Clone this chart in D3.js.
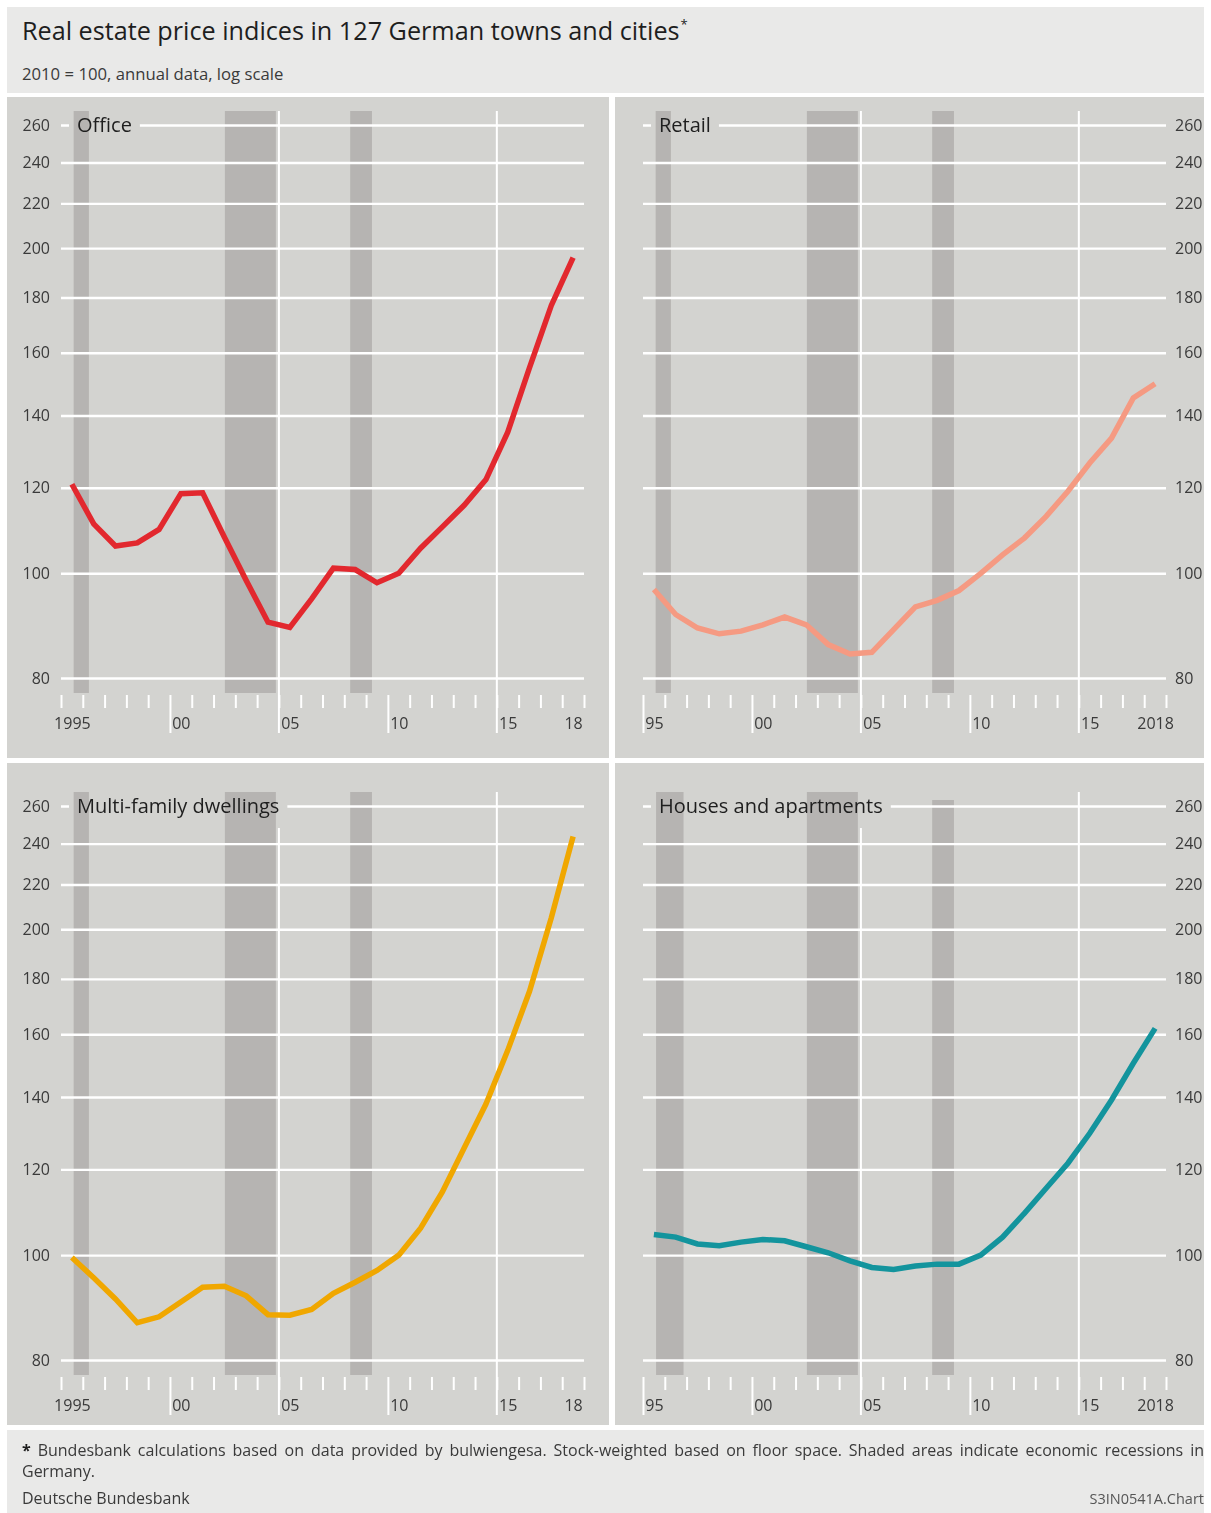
<!DOCTYPE html>
<html>
<head>
<meta charset="utf-8">
<script src="https://cdn.jsdelivr.net/npm/d3@7"></script>
<style>
  html, body { margin: 0; padding: 0; background: #ffffff; }
  svg { display: block; font-family: "Open Sans", "Noto Sans", sans-serif; }
</style>
</head>
<body>
<svg id="chart" width="1211" height="1513"></svg>
<script>
// ---- data -------------------------------------------------------------
const years = d3.range(1995, 2019); // annual observations 1995 ... 2018

const office      = [120.9, 111.1, 106.0, 106.7, 109.8, 118.5, 118.7, 108.0, 98.5, 90.1, 89.1, 94.7,
                     101.1, 100.8, 98.0, 100.0, 105.5, 110.4, 115.6, 122.1, 135.1, 155.0, 177.0, 196.0];
const retail      = [96.6, 91.6, 89.0, 87.9, 88.4, 89.6, 91.1, 89.6, 85.9, 84.2, 84.5, 88.7,
                     93.1, 94.4, 96.4, 100.0, 104.0, 107.8, 112.9, 119.1, 126.5, 133.4, 145.3, 149.8];
const multiFamily = [99.5, 95.3, 91.1, 86.6, 87.7, 90.5, 93.4, 93.6, 91.7, 88.1, 88.0, 89.1,
                     92.2, 94.4, 96.8, 100.0, 105.9, 114.4, 125.6, 137.9, 154.6, 175.3, 205.0, 243.7];
const houses      = [104.5, 103.9, 102.4, 102.0, 102.8, 103.4, 103.1, 101.8, 100.5, 98.8, 97.4, 97.0,
                     97.7, 98.1, 98.1, 100.0, 103.9, 109.3, 115.3, 121.6, 129.6, 139.1, 150.4, 162.0];

// recession periods (fractional years)
const recessions       = [[1995.58, 1996.28], [2002.52, 2004.86], [2008.27, 2009.27]];
const recessionsHouses = [[1995.60, 1996.86], [2002.52, 2004.86], [2008.27, 2009.27]];

const yTickValues   = [80, 100, 120, 140, 160, 180, 200, 220, 240, 260];
const yearTicks     = d3.range(1995, 2020);
const labelYears    = [1995, 2000, 2005, 2010, 2015, 2018];
const gridYears     = [2005, 2015];
const panelTitles   = ["Office", "Retail", "Multi-family dwellings", "Houses and apartments"];

const titleText    = "Real estate price indices in 127 German towns and cities";
const subtitleText = "2010 = 100, annual data, log scale";
const noteText     = "Bundesbank calculations based on data provided by bulwiengesa. Stock-weighted based on floor space. Shaded areas indicate economic recessions in";
const noteText2    = "Germany.";
const sourceText   = "Deutsche Bundesbank";
const chartId      = "S3IN0541A.Chart";

// ---- styling ----------------------------------------------------------
const C = {
  frame: "#e9e9e8",
  panel: "#d3d3d0",
  band: "#b6b4b2",
  grid: "#ffffff",
  text: "#1e1e1e",
  axisText: "#3a3a3a"
};

const panels = [
  { title: panelTitles[0], values: office,      color: "#e2282e", bands: recessions,
    box: [7, 97, 602, 661],   side: "left",  xr: [61, 584],   yr: [678, 125], lastBandInset: 0 },
  { title: panelTitles[1], values: retail,      color: "#f59a82", bands: recessions,
    box: [615, 97, 589, 661], side: "right", xr: [643, 1166], yr: [678, 125], lastBandInset: 0 },
  { title: panelTitles[2], values: multiFamily, color: "#f0a700", bands: recessions,
    box: [7, 763, 602, 662],  side: "left",  xr: [61, 584],   yr: [1360, 806], lastBandInset: 0 },
  { title: panelTitles[3], values: houses,      color: "#13949d", bands: recessionsHouses,
    box: [615, 763, 589, 662], side: "right", xr: [643, 1166], yr: [1360, 806], lastBandInset: 8 }
];

const svg = d3.select("#chart");
const defs = svg.append("defs");

// ---- header -----------------------------------------------------------
svg.append("rect").attr("x", 7).attr("y", 7).attr("width", 1197).attr("height", 86).attr("fill", C.frame);
const title = svg.append("text")
  .attr("x", 22).attr("y", 40)
  .attr("font-size", 25.2).attr("fill", C.text)
  .text(titleText);
title.append("tspan").attr("font-size", 13).attr("dy", -11).attr("dx", 1).text("*");

svg.append("text")
  .attr("x", 22).attr("y", 80)
  .attr("font-size", 16.7).attr("fill", C.axisText)
  .text(subtitleText);

// ---- panels -----------------------------------------------------------
panels.forEach((p, i) => {
  const [bx, by, bw, bh] = p.box;
  const g = svg.append("g");

  g.append("rect").attr("x", bx).attr("y", by).attr("width", bw).attr("height", bh).attr("fill", C.panel);

  const x = d3.scaleLinear().domain([1995, 2019]).range(p.xr);
  const y = d3.scaleLog().domain([80, 260]).range(p.yr);

  const yBottom = y(80), yTop = y(260);
  const bandTop = yTop - 14, bandBottom = yBottom + 15;
  const tickTop = yBottom + 17;
  const labelBottom = yBottom + 55;

  // recession shading
  g.append("g").selectAll("rect").data(p.bands).join("rect")
    .attr("x", d => x(d[0]))
    .attr("width", d => x(d[1]) - x(d[0]))
    .attr("y", (d, k) => bandTop + (k === p.bands.length - 1 ? p.lastBandInset : 0))
    .attr("height", (d, k) => bandBottom - bandTop - (k === p.bands.length - 1 ? p.lastBandInset : 0))
    .attr("fill", C.band);

  // panel title (measured first so grid lines can be cut around it)
  const label = g.append("text")
    .attr("x", p.xr[0] + 16).attr("y", yTop)
    .attr("dy", "0.36em")
    .attr("font-size", 20).attr("fill", C.text)
    .text(p.title);
  const bb = label.node().getBBox();

  const mask = defs.append("mask").attr("id", "cut" + i).attr("maskUnits", "userSpaceOnUse")
    .attr("x", 0).attr("y", 0).attr("width", 1211).attr("height", 1513);
  mask.append("rect").attr("x", 0).attr("y", 0).attr("width", 1211).attr("height", 1513).attr("fill", "#fff");
  mask.append("rect")
    .attr("x", bb.x - 8).attr("y", yTop - 18)
    .attr("width", bb.width + 16).attr("height", 40)
    .attr("fill", "#000");

  const grid = g.append("g").attr("mask", `url(#cut${i})`);

  // horizontal grid lines + value labels
  const yAxis = (p.side === "left" ? d3.axisLeft(y) : d3.axisRight(y))
    .tickValues(yTickValues)
    .tickSize(-(p.xr[1] - p.xr[0]))
    .tickPadding(p.side === "left" ? 11 : 9)
    .tickFormat(d3.format("d"));
  const ya = grid.append("g")
    .attr("transform", `translate(${p.side === "left" ? p.xr[0] : p.xr[1]},0)`)
    .call(yAxis)
    .attr("font-family", null).attr("font-size", 16);
  ya.select(".domain").remove();
  ya.selectAll(".tick line").attr("stroke", C.grid).attr("stroke-width", 2.4);
  ya.selectAll(".tick text").attr("fill", C.axisText);

  // vertical grid lines at 2005 and 2015
  grid.append("g").selectAll("line").data(gridYears).join("line")
    .attr("x1", d => x(d)).attr("x2", d => x(d))
    .attr("y1", bandTop).attr("y2", labelBottom)
    .attr("stroke", C.grid).attr("stroke-width", 2);

  // year ticks
  const longTicks = p.side === "left" ? [2000, 2010] : [1995, 2000, 2010];
  const xa = g.append("g")
    .attr("transform", `translate(0,${tickTop})`)
    .call(d3.axisBottom(x).tickValues(yearTicks).tickSize(13).tickFormat(""));
  xa.select(".domain").remove();
  xa.selectAll(".tick line")
    .attr("stroke", C.grid).attr("stroke-width", 2)
    .attr("y2", d => longTicks.includes(d) ? labelBottom - tickTop : 13);

  // year labels, centred on the middle of each year
  const fmtYear = d => {
    if (p.side === "left" && d === 1995) return "1995";
    if (p.side === "right" && d === 2018) return "2018";
    return String(d).slice(2);
  };
  const xl = g.append("g")
    .attr("transform", `translate(0,${yBottom + 40})`)
    .call(d3.axisBottom(x).tickValues(labelYears.map(d => d + 0.5)).tickSize(0).tickPadding(0)
      .tickFormat(d => fmtYear(Math.floor(d))))
    .attr("font-family", null).attr("font-size", 16);
  xl.select(".domain").remove();
  xl.selectAll(".tick text").attr("fill", C.axisText);

  // series line
  const line = d3.line()
    .x((d, k) => x(years[k] + 0.5))
    .y(d => y(d));
  g.append("path")
    .datum(p.values)
    .attr("d", line)
    .attr("fill", "none")
    .attr("stroke", p.color)
    .attr("stroke-width", 5.5)
    .attr("stroke-linejoin", "miter");

  label.raise();
});

// ---- footer -----------------------------------------------------------
svg.append("rect").attr("x", 7).attr("y", 1430).attr("width", 1197).attr("height", 83).attr("fill", C.frame);

// justified first footnote line
const note = svg.append("g").attr("font-size", 16).attr("fill", C.axisText);
const words = ["*"].concat(noteText.split(" "));
const wordNodes = words.map((w, k) =>
  note.append("text").attr("y", 1456)
    .attr("font-weight", k === 0 ? "bold" : null)
    .attr("fill", k === 0 ? C.text : C.axisText)
    .text(w));
const widths = wordNodes.map(n => n.node().getComputedTextLength());
const lineStart = 22, lineEnd = 1204;
const gap = (lineEnd - lineStart - d3.sum(widths)) / (words.length - 1);
let cx = lineStart;
wordNodes.forEach((n, k) => { n.attr("x", cx); cx += widths[k] + gap; });

note.append("text").attr("x", 22).attr("y", 1477).text(noteText2);

svg.append("text").attr("x", 22).attr("y", 1504)
  .attr("font-size", 16).attr("fill", C.axisText).text(sourceText);
svg.append("text").attr("x", 1204).attr("y", 1504)
  .attr("text-anchor", "end")
  .attr("font-size", 14.5).attr("fill", "#555").text(chartId);
</script>
</body>
</html>
